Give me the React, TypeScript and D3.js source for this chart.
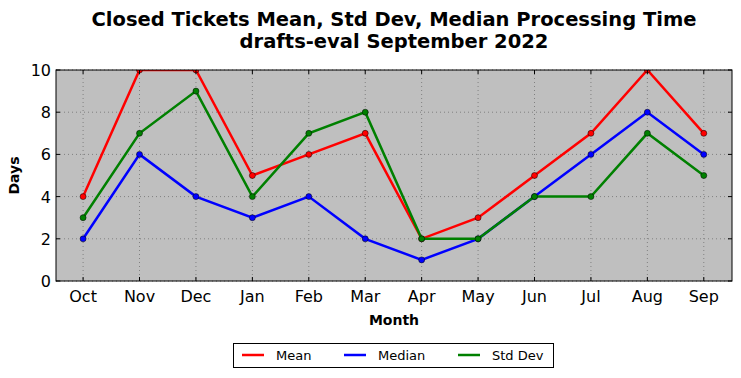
import React from "react";
import * as d3 from "d3";

const months = ["Oct", "Nov", "Dec", "Jan", "Feb", "Mar", "Apr", "May", "Jun", "Jul", "Aug", "Sep"];
const meanValues = [4, 10, 10, 5, 6, 7, 2, 3, 5, 7, 10, 7];
const medianValues = [2, 6, 4, 3, 4, 2, 1, 2, 4, 6, 8, 6];
const stdValues = [3, 7, 9, 4, 7, 8, 2, 2, 4, 4, 7, 5];
const yTicks = [0, 2, 4, 6, 8, 10];
const seriesNames = ["Mean", "Median", "Std Dev"];
const seriesColors = ["#ff0000", "#0000ff", "#008000"];

const W = 741, H = 378;
const L = 56, R = 732, T = 70, B = 281;

export default function App() {
  const x = d3.scaleLinear().domain([-0.48, 11.5]).range([L, R]);
  const y = d3.scaleLinear().domain([0, 10]).range([B, T]);
  const series = [meanValues, medianValues, stdValues];
  const line = d3.line<number>().x((_, i) => x(i)).y((d) => y(d));
  const font = "DejaVu Sans, sans-serif";
  const legX = [242, 344, 458];
  return (
    <svg width={W} height={H} style={{ position: "absolute", left: 0, top: 0 }} fontFamily={font}>
      <rect x={0} y={0} width={W} height={H} fill="#fff" />
      <defs>
        <clipPath id="plotclip">
          <rect x={L} y={T} width={R - L} height={B - T} />
        </clipPath>
      </defs>
      <text x={(L + R) / 2} y={26} textAnchor="middle" fontSize={19.5} fontWeight="bold">
        Closed Tickets Mean, Std Dev, Median Processing Time
      </text>
      <text x={(L + R) / 2} y={48} textAnchor="middle" fontSize={19.5} fontWeight="bold">
        drafts-eval September 2022
      </text>
      <rect x={L} y={T} width={R - L} height={B - T} fill="#bfbfbf" />
      {months.map((m, i) => (
        <line key={"gx" + i} x1={x(i)} x2={x(i)} y1={T} y2={B} stroke="#808080" strokeWidth={1} strokeDasharray="1,3" />
      ))}
      {yTicks.map((t) => (
        <line key={"gy" + t} x1={L} x2={R} y1={y(t)} y2={y(t)} stroke="#808080" strokeWidth={1} strokeDasharray="1,3" />
      ))}
      <g clipPath="url(#plotclip)">
        {series.map((s, k) => (
          <g key={"s" + k}>
            <path d={line(s) || ""} fill="none" stroke={seriesColors[k]} strokeWidth={2.5} />
            {s.map((v, i) => (
              <circle key={i} cx={x(i)} cy={y(v)} r={3} fill={seriesColors[k]} stroke="#000" strokeWidth={0.5} />
            ))}
          </g>
        ))}
      </g>
      <rect x={L} y={T} width={R - L} height={B - T} fill="none" stroke="#000" strokeWidth={1} />
      {months.map((m, i) => (
        <g key={"tx" + i}>
          <line x1={x(i)} x2={x(i)} y1={B} y2={B - 4} stroke="#000" />
          <line x1={x(i)} x2={x(i)} y1={T} y2={T + 4} stroke="#000" />
          <text x={x(i)} y={302} textAnchor="middle" fontSize={16}>{m}</text>
        </g>
      ))}
      {yTicks.map((t) => (
        <g key={"ty" + t}>
          <line x1={L} x2={L + 4} y1={y(t)} y2={y(t)} stroke="#000" />
          <line x1={R} x2={R - 4} y1={y(t)} y2={y(t)} stroke="#000" />
          <text x={51} y={y(t) + 6} textAnchor="end" fontSize={16}>{t}</text>
        </g>
      ))}
      <text x={(L + R) / 2} y={325} textAnchor="middle" fontSize={14} fontWeight="bold">Month</text>
      <text transform={`translate(19,${(T + B) / 2}) rotate(-90)`} textAnchor="middle" fontSize={14} fontWeight="bold">Days</text>
      <rect x={233.5} y={343.5} width={320} height={24} fill="#fff" stroke="#000" strokeWidth={1} />
      {seriesNames.map((n, k) => (
        <g key={"lg" + k}>
          <line x1={legX[k]} x2={legX[k] + 22} y1={355} y2={355} stroke={seriesColors[k]} strokeWidth={2.5} />
          <text x={legX[k] + 34} y={360} fontSize={13}>{n}</text>
        </g>
      ))}
    </svg>
  );
}
